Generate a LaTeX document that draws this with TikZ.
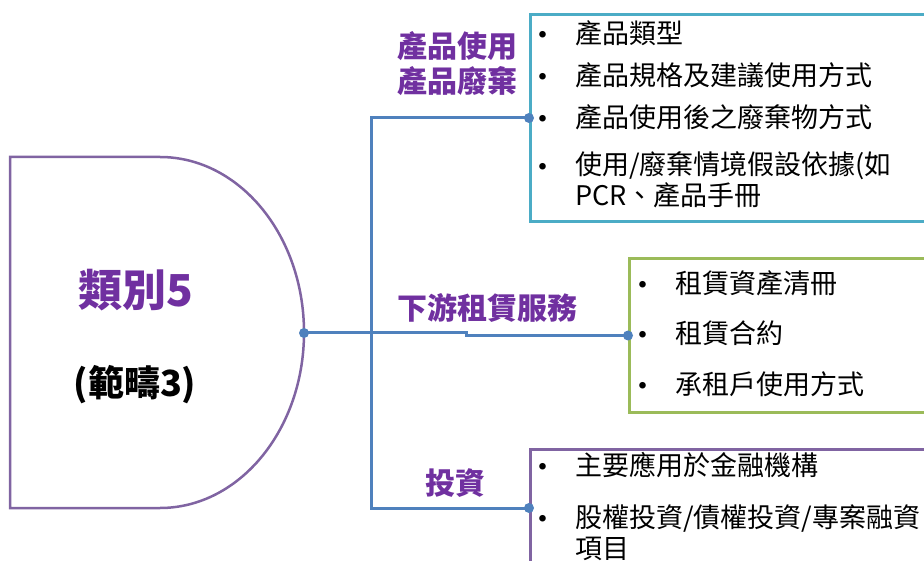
\documentclass[tikz,border=0pt]{standalone}
\usepackage{fontspec}
\setmainfont{Noto Sans CJK TC}
\usetikzlibrary{positioning, calc}
\definecolor{cat-purple}{HTML}{8064A2}
\definecolor{cat-violet}{HTML}{7030A0}
\definecolor{cat-blue}{HTML}{4F81BD}
\definecolor{cat-cyan}{HTML}{4BACC6}
\definecolor{cat-green}{HTML}{9BBB59}

\begin{document}
\begin{tikzpicture}[x=1pt, y=-1pt,
    frame/.style={draw, line width=3pt, anchor=north west, minimum width=420pt, inner sep=0},
    conn/.style={draw=cat-blue, line width=3pt},
    jdot/.style={circle, fill=cat-blue, inner sep=0, minimum size=10pt},
    lbl/.style={font=\fontsize{30}{35}\selectfont\bfseries, text=cat-violet, align=center, inner sep=0},
    item/.style={font=\fontsize{27}{30.5}\selectfont, anchor=west, align=left, inner sep=0},
    bul/.style={font=\fontsize{31}{34}\selectfont, inner sep=0, yshift=-6pt},
]
    \useasboundingbox (0,0) rectangle (924,561);
    \clip (0,0) rectangle (924,561);

    % Category shape
    \draw[draw=cat-purple, line width=2.5pt] (160,157) -- (10,157) -- (10,508) -- (160,508)
        arc[start angle=90, end angle=-90, x radius=144, y radius=175.5];
    \node[font=\fontsize{44}{50}\selectfont\bfseries, text=cat-violet] (cattitle) at (136,290) {類別5};
    \node[font=\fontsize{36}{40}\selectfont\bfseries] (catscope) at (135,385) {(範疇3)};

    % Frames
    \node[frame, draw=cat-cyan, minimum height=207pt] (usebox) at (529,13) {};
    \node[frame, draw=cat-green, minimum height=154pt] (leasebox) at (628,257) {};
    \node[frame, draw=cat-purple, minimum height=200pt] (invbox) at (529,448) {};

    % Connectors
    \coordinate (hub) at (304,333);
    \coordinate (trunk) at (371,508);
    \coordinate (useIn) at (usebox.west);
    \coordinate (leaseIn) at (leasebox.west);
    \coordinate (invIn) at ($(invbox.north west)+(0,60)$);
    \draw[conn] (useIn) -| (trunk) -- (invIn);
    \draw[conn] (hub) -- (466,333) |- (leaseIn);
    \foreach \p in {hub, useIn, leaseIn, invIn}
        \node[jdot] (dot-\p) at (\p) {};

    % Branch labels
    \node[lbl] (uselbl) at (457,64) {產品使用\\產品廢棄};
    \node[lbl] (leaselbl) at (487,308) {下游租賃服務};
    \node[lbl] (invlbl) at (455,483) {投資};

    % Product use / disposal
    \node[bul] (u1b) at (543,33) {•};
    \node[item] (u1) at (575,33) {產品類型};
    \node[bul] (u2b) at (543,75) {•};
    \node[item] (u2) at (575,75) {產品規格及建議使用方式};
    \node[bul] (u3b) at (543,117) {•};
    \node[item] (u3) at (575,117) {產品使用後之廢棄物方式};
    \node[bul] (u4b) at (543,165) {•};
    \node[item] (u4) at (575,180) {使用/廢棄情境假設依據(如\\PCR、產品手冊};

    % Downstream leasing
    \node[bul] (l1b) at (643,283) {•};
    \node[item] (l1) at (675,283) {租賃資產清冊};
    \node[bul] (l2b) at (643,333) {•};
    \node[item] (l2) at (675,333) {租賃合約};
    \node[bul] (l3b) at (643,384) {•};
    \node[item] (l3) at (675,384) {承租戶使用方式};

    % Investments
    \node[bul] (i1b) at (543,465) {•};
    \node[item] (i1) at (575,465) {主要應用於金融機構};
    \node[bul] (i2b) at (543,517) {•};
    \node[item] (i2) at (575,532.5) {股權投資/債權投資/專案融資\\項目};
\end{tikzpicture}
\end{document}
